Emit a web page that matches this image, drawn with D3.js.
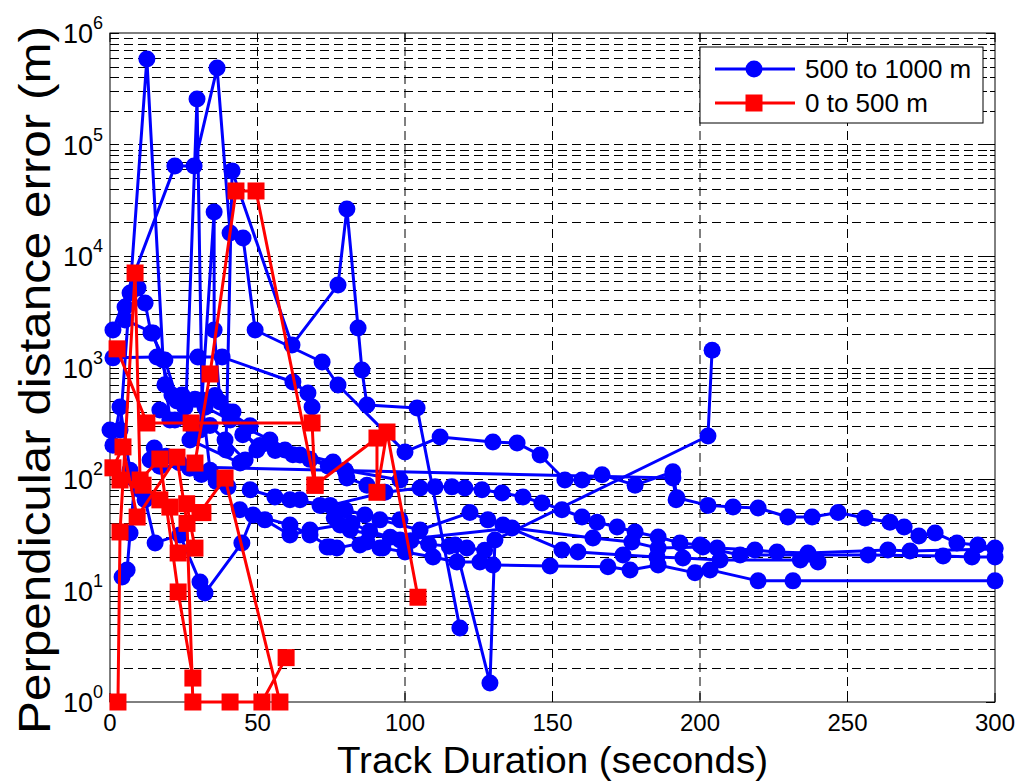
<!DOCTYPE html>
<html>
<head>
<meta charset="utf-8">
<script src="https://cdn.jsdelivr.net/npm/d3@7"></script>
<style>
  body { margin: 0; background: #fff; }
  svg { display: block; font-family: "Liberation Sans", Arial, sans-serif; }
</style>
</head>
<body>
<svg id="chart" width="1018" height="783"></svg>
<script>
// ---- axis ticks and labels ----
const xTicks = [0, 50, 100, 150, 200, 250, 300];
const yExponents = [0, 1, 2, 3, 4, 5, 6];
const seriesNames = ["500 to 1000 m", "0 to 500 m"];
const xTitle = "Track Duration (seconds)";
const yTitle = "Perpendicular distance error (m)";

// ---- tracks, 500 to 1000 m: [duration s, error m] ----
const farTracks = [
  [[3.4,275],[12.5,585000],[18,1170],[20.3,338]],
  [[1,2170],[22,64000],[28.5,64000],[36.3,485000],[40.7,16100],[45.1,14500],[49.2,2170],[71.9,1120],[77.3,697],[100,175],[111.9,238],[129.8,215],[138,210],[145.8,164],[154.2,98],[160,98],[166.8,109],[178,88],[190.8,116],[192.2,68],[202.7,58],[211.2,56],[219.7,55],[229.8,45.6],[238,45.6],[246.8,50],[255.9,44.7],[264.4,41],[269.2,37.1],[274.2,30.8],[279.7,32.8],[287.1,26.7],[294.2,25.6],[300,24]],
  [[25.8,510],[29.5,256000],[31.2,510],[33.9,120]],
  [[30.5,275],[35.3,24800],[35.3,2170],[37.3,491],[41.7,399],[49.8,182],[59.3,182],[75.6,142],[80.3,102],[87.1,88]],
  [[39.3,182],[41.4,58000],[61.7,1590],[77.3,5500],[80.3,26400],[84.1,2260],[85.4,950],[87.1,461],[104.1,433],[118.6,4.6]],
  [[117,25.6],[128.8,1.48],[130.5,28.4],[202.7,243],[204.1,1430]],
  [[73.6,24.5],[76.9,24],[87.1,27.2],[92.5,24],[100,22.1],[109.5,20],[117.6,18],[125.4,18],[129.8,16.9],[149.2,16.6],[168.8,16.3],[176.3,15.3],[185.8,16.9],[198.3,14.4],[203.4,15.3],[219.7,12.2],[231.5,12.2],[300,12.2]],
  [[61,65],[74.6,58],[93.2,76],[105.1,83],[110.2,85],[115.9,85],[120.3,83],[126.1,80],[132.9,75],[140,69],[146.4,61],[153.2,53],[160,45.6],[165.1,41],[171.9,37.1],[178,33.5],[185.8,30.2],[193.2,26.7],[200,25.6],[205.8,24],[218.6,23.1],[226.1,22.1],[236.6,21.7],[263.7,23.1],[271.2,22.6],[300,23.6]],
  [[91.5,43],[105.1,34.9],[122,50],[128.1,43],[133.2,38.7],[153.2,23.1],[158.6,22.1],[173.9,20.8],[185.4,20],[194.2,19.6],[206.8,18.8],[234,18.8],[240,18]],
  [[81.4,34.9],[98.3,28.4],[136.3,36.4],[163.7,29.6],[176.9,27.2],[185.8,24],[201,24.5],[213.6,20.8],[257,20.8],[282.4,20.4],[292.2,20],[300,20]],
  [[13.6,148],[16.9,130],[190.8,102],[191.9,65]],
  [[1,1220],[15.9,1240],[29.8,1240],[38,1240],[62,741],[67.1,590],[68.5,442]],
  [[5.1,3490],[5.1,2670],[14.6,2040],[21,566],[24.4,566],[40.7,338],[54.2,224],[64.4,164],[79.7,120],[98.3,98]],
  [[6.8,4660],[9.5,5160],[11.9,3790],[13.9,2040],[18.6,1170],[27.1,224],[44.1,139]],
  [[0,275],[1,201],[3.4,442],[6.8,120],[10.2,80]],
  [[4.1,13.2],[5.8,15.3],[6.8,32.8],[8.5,98]],
  [[11.9,65],[15.3,26.7],[23.7,31.5],[30.5,11.9],[32.2,9.5],[44.7,26.7],[48.5,47.5],[61,38.7],[67.8,31.5],[74.6,24.5]],
  [[47.5,80],[55.9,69],[64.4,65],[71.2,58],[79.7,53],[86.4,47.5],[98.3,43]],
  [[44,53],[52.5,43],[61,31.5],[67.8,34.9],[78,38.7],[84.7,25.6],[91.5,24]],
  [[16.9,415],[22,338],[28.8,275],[33.9,302],[39,224],[45.8,148]],
  [[18.6,700],[22.7,500],[25.4,440],[28.8,520],[32.2,440],[35.6,560],[40,400],[47.5,300]],
  [[45,250],[50.8,200],[56,180],[62,165],[67.8,150],[74,130],[80,115]],
  [[76,45],[82,40],[88,34],[95,30],[102,28],[108,26],[115,25],[121,24],[127,23]],
  [[15,190],[19,160],[23.5,140],[27,125],[31,110],[36,95],[40,85]]
];

// ---- tracks, 0 to 500 m ----
const nearTracks = [
  [[2.4,1470],[12.5,318],[27.5,318],[68.5,318],[69.5,88]],
  [[28.8,139],[33.9,875],[42.7,38300],[49.5,38300],[69.5,88],[90.5,233],[90.5,76],[93.9,264],[104.4,8.7]],
  [[30.5,50],[39,102],[57.6,1]],
  [[2.7,1],[3.4,33.5],[8.5,7040],[10.2,98],[16.9,151],[23.1,9.7],[28.1,1.64]],
  [[1,126],[4.4,194],[9.2,45.6],[22.7,157],[26.1,40],[28.1,1],[40.7,1],[51.5,1],[59.7,2.5]],
  [[3.4,98],[11.2,88],[16.9,65],[20.3,56],[23.1,21.7],[28.8,24],[26,60],[31.5,50]]
];

const farColor = "#0000ff";
const nearColor = "#ff0000";

const svg = d3.select("#chart");
const X0 = 110, X1 = 995, Y0 = 33, Y1 = 702;
const x = d3.scaleLinear().domain([0, 300]).range([X0, X1]);
const y = d3.scaleLog().domain([1, 1e6]).range([Y1, Y0]);

// log ticks: every k * 10^n
const minorVals = [];
for (let n = 0; n < 6; n++) for (let k = 1; k <= 9; k++) minorVals.push(k * Math.pow(10, n));
minorVals.push(1e6);

// ---- grid ----
const grid = svg.append("g").attr("stroke", "#000").attr("stroke-width", 1)
  .attr("stroke-dasharray", "9,5").attr("fill", "none");
grid.selectAll("line.gx").data(xTicks.filter(d => d > 0 && d < 300)).join("line")
  .attr("x1", d => x(d)).attr("x2", d => x(d)).attr("y1", Y0).attr("y2", Y1);
grid.selectAll("line.gy").data(minorVals.filter(d => d > 1 && d < 1e6)).join("line")
  .attr("x1", X0).attr("x2", X1).attr("y1", d => Math.round(y(d)) + 0.5).attr("y2", d => Math.round(y(d)) + 0.5);

// ---- axes (ticks pointing inward, mirrored on top and right) ----
const axG = svg.append("g").attr("stroke", "#000").attr("stroke-width", 1);
axG.append("rect").attr("x", X0).attr("y", Y0).attr("width", X1 - X0).attr("height", Y1 - Y0)
  .attr("fill", "none");
xTicks.forEach(t => {
  axG.append("line").attr("x1", x(t)).attr("x2", x(t)).attr("y1", Y1).attr("y2", Y1 - 9);
  axG.append("line").attr("x1", x(t)).attr("x2", x(t)).attr("y1", Y0).attr("y2", Y0 + 9);
});
minorVals.forEach(v => {
  const major = Math.log10(v) % 1 === 0;
  const len = major ? 9 : 5;
  const yy = Math.round(y(v)) + 0.5;
  axG.append("line").attr("x1", X0).attr("x2", X0 + len).attr("y1", yy).attr("y2", yy);
  axG.append("line").attr("x1", X1).attr("x2", X1 - len).attr("y1", yy).attr("y2", yy);
});

// tick labels
svg.append("g").selectAll("text").data(xTicks).join("text")
  .attr("x", d => x(d)).attr("y", 731)
  .attr("text-anchor", "middle").attr("font-size", 24)
  .attr("font-family", "'Liberation Sans Narrow', 'Arial Narrow', 'Liberation Sans', sans-serif")
  .attr("fill", "#000")
  .text(d => d);

const yl = svg.append("g").selectAll("text").data(yExponents).join("text")
  .attr("x", 63).attr("y", d => y(Math.pow(10, d)) + 10)
  .attr("font-size", 27).attr("fill", "#000");
yl.append("tspan").text("10");
yl.append("tspan").attr("dy", -14).attr("font-size", 18).text(d => d);

// axis titles
svg.append("text").attr("x", (X0 + X1) / 2).attr("y", 773)
  .attr("text-anchor", "middle").attr("font-size", 37)
  .attr("textLength", 431).attr("lengthAdjust", "spacingAndGlyphs")
  .text(xTitle);
svg.append("text").attr("transform", "translate(50,380) rotate(-90)")
  .attr("text-anchor", "middle").attr("font-size", 44)
  .attr("textLength", 708).attr("lengthAdjust", "spacingAndGlyphs")
  .text(yTitle);

// ---- data ----
const line = d3.line().x(d => x(d[0])).y(d => y(d[1]));
const dataG = svg.append("g");
const R = 8.5;

function drawTrack(track, color, shape) {
  const g = dataG.append("g");
  g.append("path").attr("d", line(track)).attr("fill", "none")
    .attr("stroke", color).attr("stroke-width", 3).attr("stroke-linejoin", "round");
  if (shape === "circle") {
    g.selectAll("circle").data(track).join("circle")
      .attr("cx", d => x(d[0])).attr("cy", d => y(d[1])).attr("r", R).attr("fill", color);
  } else {
    g.selectAll("rect").data(track).join("rect")
      .attr("x", d => x(d[0]) - R).attr("y", d => y(d[1]) - R)
      .attr("width", 2 * R).attr("height", 2 * R).attr("fill", color);
  }
}
farTracks.forEach(t => drawTrack(t, farColor, "circle"));
nearTracks.forEach(t => drawTrack(t, nearColor, "square"));

// ---- legend ----
const lg = svg.append("g");
lg.append("rect").attr("x", 700).attr("y", 47).attr("width", 283).attr("height", 76)
  .attr("fill", "#fff").attr("stroke", "#000").attr("stroke-width", 1);
const entries = [
  { name: seriesNames[0], color: farColor, shape: "circle", cy: 69 },
  { name: seriesNames[1], color: nearColor, shape: "square", cy: 103 }
];
entries.forEach(e => {
  lg.append("line").attr("x1", 715).attr("x2", 795).attr("y1", e.cy).attr("y2", e.cy)
    .attr("stroke", e.color).attr("stroke-width", 3);
  if (e.shape === "circle") {
    lg.append("circle").attr("cx", 754).attr("cy", e.cy).attr("r", R).attr("fill", e.color);
  } else {
    lg.append("rect").attr("x", 754 - R).attr("y", e.cy - R).attr("width", 2 * R).attr("height", 2 * R)
      .attr("fill", e.color);
  }
  lg.append("text").attr("x", 805).attr("y", e.cy + 9).attr("font-size", 26).attr("fill", "#000")
    .text(e.name);
});
</script>
</body>
</html>
